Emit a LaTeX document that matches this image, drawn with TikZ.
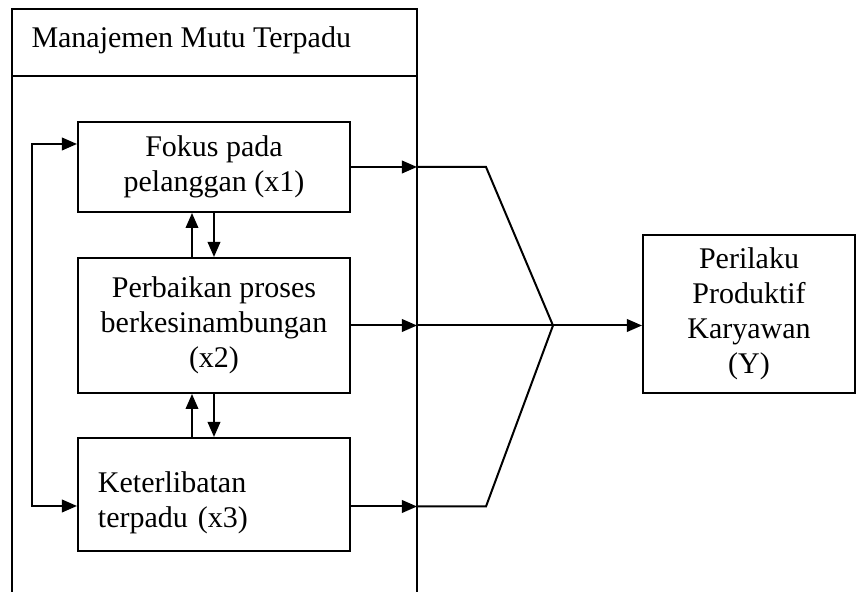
\documentclass[tikz,border=0pt]{standalone}
\usepackage{fontspec}
\setmainfont{Liberation Serif}
\usetikzlibrary{arrows.meta}
\tikzset{
  garis/.style={line width=0.8pt},
  kotak/.style={draw,garis,align=center,inner sep=0pt,minimum width=108.8pt},
  panah/.style={garis,->}
}
\begin{document}
\begin{tikzpicture}[x=0.4pt,y=0.4pt,font=\fontsize{12}{14}\selectfont,>={Triangle[length=6pt,width=5pt]}]
\useasboundingbox (0,0) rectangle (856,592);
\draw[garis] (12,0) -- (12,583) -- (417,583) -- (417,0);
\draw[garis] (12,516) -- (417,516);
\node[anchor=base west,inner sep=0pt] (judul) at (31,544) {Manajemen Mutu Terpadu};
\node[kotak,minimum height=36pt] (x1) at (214,425) {Fokus pada\\pelanggan (x1)};
\node[kotak,minimum height=54pt] (x2) at (214,266.5) {Perbaikan proses\\berkesinambungan\\(x2)};
\node[kotak,minimum height=45.2pt,align=left,text width=92.8pt,inner xsep=8pt,text depth=10pt] (x3) at (214,97.5) {Keterlibatan\\terpadu (x3)};
\node[kotak,minimum width=84.8pt,minimum height=63.2pt] (y) at (749,278) {Perilaku\\Produktif\\Karyawan\\(Y)};
\coordinate (tepi) at (417,0);
\coordinate (tekuk) at (486,0);
\coordinate (temu) at (553,266.5);
\draw[panah] ([xshift=-8.8pt]x2.north) -- ([xshift=-8.8pt]x1.south);
\draw[panah] (x1.south) -- (x2.north);
\draw[panah] ([xshift=-8.8pt]x3.north) -- ([xshift=-8.8pt]x2.south);
\draw[panah] (x2.south) -- (x3.north);
\draw[garis,<->] ([yshift=9.2pt]x1.west) -- ++(-18pt,0) |- ([yshift=-4.6pt]x3.west);
\draw[panah] (x1.east) -- (x1.east -| tepi);
\draw[panah] (x2.east) -- (x2.east -| tepi);
\draw[panah] ([yshift=-4.8pt]x3.east) -- ([yshift=-4.8pt]x3.east -| tepi);
\draw[garis] (x1.east -| tepi) -- (x1.east -| tekuk) -- (temu);
\draw[garis] ([yshift=-4.8pt]x3.east -| tepi) -- ([yshift=-4.8pt]x3.east -| tekuk) -- (temu);
\draw[garis] (x2.east -| tepi) -- (temu);
\draw[panah] (temu) -- (temu -| y.west);
\end{tikzpicture}
\end{document}
